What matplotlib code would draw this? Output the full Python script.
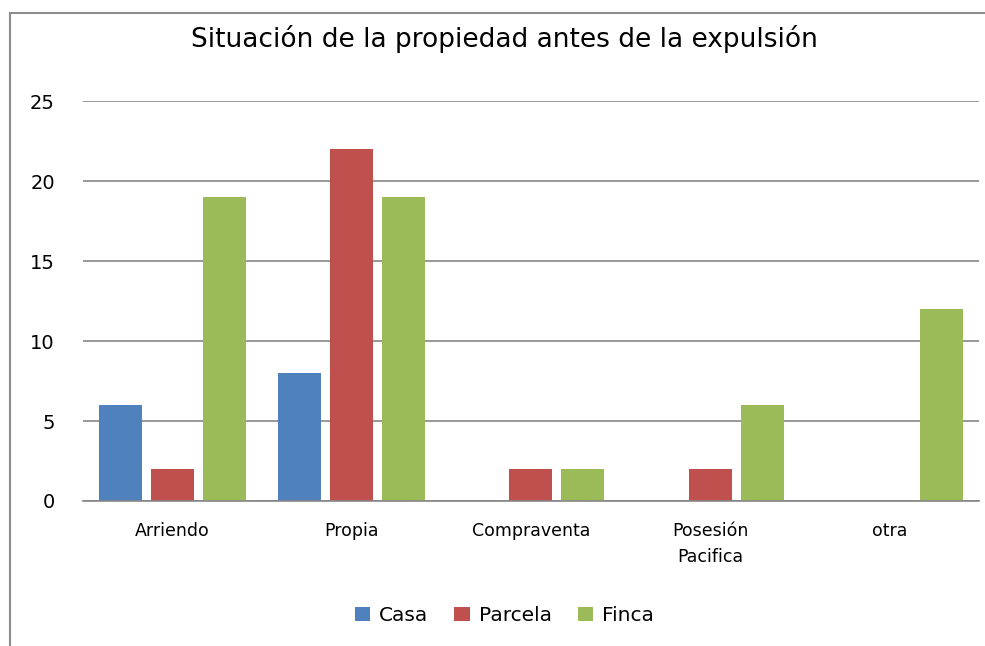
import numpy as np
import matplotlib.pyplot as plt
from matplotlib.patches import Rectangle

categorias = ['Arriendo', 'Propia', 'Compraventa', 'Posesión\nPacifica', 'otra']
casa = [6, 8, 0, 0, 0]
parcela = [2, 22, 2, 2, 0]
finca = [19, 19, 2, 6, 12]

plt.rcParams['font.family'] = ['DejaVu Sans']

fig = plt.figure(figsize=(9.85, 6.46), dpi=100)
ax = fig.add_axes([0.084, 0.2245, 0.91, 0.6192])

# marco del grafico (recortado a la derecha y abajo)
fig.patches.append(Rectangle((0.0102, -0.1), 1.2, 1.08, transform=fig.transFigure,
                             fill=False, edgecolor='#8c8c8c', linewidth=1.5))

x = np.arange(len(categorias))
w = 0.24
d = 0.29
ax.bar(x - d, casa, w, color='#4f81bd', label='Casa')
ax.bar(x, parcela, w, color='#c0504d', label='Parcela')
ax.bar(x + d, finca, w, color='#9bbb59', label='Finca')

ax.set_xlim(-0.5, 4.5)
ax.set_ylim(0, 25.03)
ax.set_yticks([0, 5, 10, 15, 20, 25])
ax.yaxis.grid(True, color='#868686', linewidth=1.2)
ax.set_axisbelow(True)
for s in ['top', 'right', 'left']:
    ax.spines[s].set_visible(False)
ax.spines['bottom'].set_color('#868686')
ax.spines['bottom'].set_linewidth(1.2)
ax.set_xticks(x)
ax.set_xticklabels(categorias, fontsize=12.5, linespacing=1.6)
ax.tick_params(axis='x', length=0, pad=15)
ax.tick_params(axis='y', length=0, pad=20, labelsize=14)

fig.text(0.512, 0.94, 'Situación de la propiedad antes de la expulsión',
         ha='center', va='center', fontsize=19)

fig.legend(loc='center', bbox_to_anchor=(0.512, 0.047), ncol=3, frameon=False,
           fontsize=14.5, handlelength=0.75, handleheight=0.75, handletextpad=0.45,
           columnspacing=1.3)

fig.savefig('out.png', dpi=100)
